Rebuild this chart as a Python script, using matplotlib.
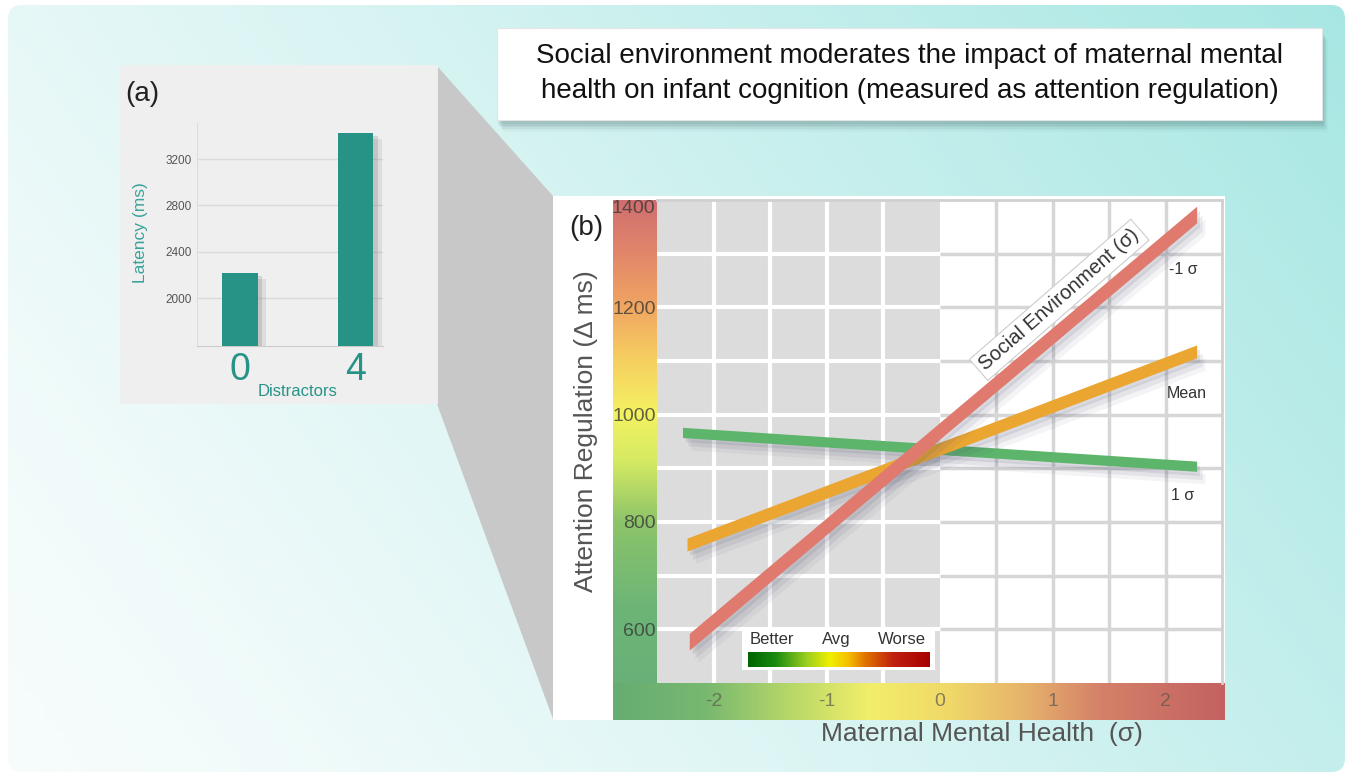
import numpy as np
import matplotlib
matplotlib.use("Agg")
import matplotlib.pyplot as plt
from matplotlib.patches import Rectangle, Polygon, FancyBboxPatch
from matplotlib.colors import LinearSegmentedColormap
import matplotlib.patheffects as pe

plt.rcParams['font.family'] = ['Liberation Sans', 'DejaVu Sans']

# ---------------- data ----------------
# panel (a)
distractors = ['0', '4']
latency_ms = [2215, 3424]
latency_ticks = [2000, 2400, 2800, 3200]

# panel (b)
social_levels = ['-1 σ', 'Mean', '1 σ']
mmh_start = [-2.21, -2.23, -2.27]
mmh_end = [2.28, 2.28, 2.28]
attn_start = [576, 757, 966]
attn_end = [1372, 1117, 903]
attn_ticks = [600, 800, 1000, 1200, 1400]
mmh_ticks = [-2, -1, 0, 1, 2]
legend_words = ['Better', 'Avg', 'Worse']

title_lines = ["Social environment moderates the impact of maternal mental",
               "health on infant cognition (measured as attention regulation)"]

# ---------------- styles ----------------
W, H = 1351, 777
fig = plt.figure(figsize=(W / 100, H / 100), dpi=100)
fig.patch.set_facecolor('white')


def px_axes(x0, y0, x1, y1, **kw):
    return fig.add_axes([x0 / W, 1 - y1 / H, (x1 - x0) / W, (y1 - y0) / H], **kw)


# background
bg = fig.add_axes([0, 0, 1, 1])
bg.set_xlim(0, W)
bg.set_ylim(H, 0)
bg.axis('off')
ny, nx = 78, 136
yy, xx = np.mgrid[0:1:ny * 1j, 0:1:nx * 1j]
t = np.clip(0.72 * xx + 0.3 * (1 - yy) - 0.05, 0, 1) ** 1.2
c0 = np.array([0xf6, 0xfc, 0xfc]) / 255
c1 = np.array([0xa4, 0xe6, 0xe2]) / 255
img = c0 + (c1 - c0) * t[..., None]
im = bg.imshow(img, extent=(0, W, H, 0), aspect='auto', interpolation='bilinear', zorder=0)
frame = FancyBboxPatch((8, 5), 1337, 767, boxstyle='round,pad=0,rounding_size=14',
                       transform=bg.transData, fc='none', ec='none')
bg.add_patch(frame)
im.set_clip_path(frame)

# connecting trapezoid
bg.add_patch(Polygon([(437, 66), (553, 196), (553, 719), (437, 404)], closed=True,
                     fc='#c8c8c8', ec='none', zorder=2))
# panel (a) box
bg.add_patch(Rectangle((120, 65), 318, 339, fc='#efefef', ec='none', zorder=3))
# panel (b) box
bg.add_patch(Rectangle((553, 196), 672, 524, fc='white', ec='none', zorder=3))

# title box with shadow
for i, a in enumerate([0.07, 0.07, 0.06, 0.05, 0.04, 0.03]):
    bg.add_patch(Rectangle((497 + 1 + i, 30 + 2 + i * 1.6), 825, 92, fc='#2a5050', alpha=a,
                           ec='none', zorder=4))
bg.add_patch(Rectangle((497, 28), 825, 92, fc='white', ec='#e4e4e4', lw=0.8, zorder=5))
bg.text(910, 56, title_lines[0], ha='center', va='center', fontsize=20, color='#111111', zorder=6)
bg.text(910, 91, title_lines[1], ha='center', va='center', fontsize=20, color='#111111', zorder=6)

bg.text(142, 94, '(a)', ha='center', va='center', fontsize=20, color='#222222', zorder=6)
bg.text(586, 228, '(b)', ha='center', va='center', fontsize=20, color='#222222', zorder=6)

# ---------------- panel (a) ----------------
teal = '#279387'
axA = px_axes(197, 123, 383, 346)
axA.patch.set_alpha(0)
xa = np.arange(len(distractors))
bars = axA.bar(xa, latency_ms, width=0.31, color=teal, zorder=3)
for b in bars:
    b.set_path_effects([pe.SimplePatchShadow(offset=(3, -2), shadow_rgbFace='#404040', alpha=0.15),
                        pe.SimplePatchShadow(offset=(6, -4), shadow_rgbFace='#404040', alpha=0.10),
                        pe.Normal()])
axA.set_xlim(-0.372, 1.238)
axA.set_ylim(1590, 3510)
axA.set_yticks(latency_ticks)
axA.yaxis.grid(True, color='#dadada', lw=1)
axA.set_axisbelow(True)
for s in ['top', 'right']:
    axA.spines[s].set_visible(False)
axA.spines['left'].set_color('#dddddd')
axA.spines['bottom'].set_color('#cccccc')
axA.tick_params(axis='y', length=0, pad=4, labelsize=8.5, labelcolor='#555555')
axA.set_xticks(xa)
axA.set_xticklabels(distractors)
axA.tick_params(axis='x', length=0, pad=4, labelsize=27, labelcolor=teal)
axA.set_xlabel('Distractors', fontsize=12, color=teal)
axA.xaxis.set_label_coords((298 - 197) / 186, -(384 - 346) / 223)
axA.set_ylabel('Latency (ms)', fontsize=12.5, color='#3aa39a')
axA.yaxis.set_label_coords((148 - 197) / 186, 0.51)

# ---------------- panel (b) ----------------
cmapL = LinearSegmentedColormap.from_list('l', [
    (0.0, '#66ae78'), (0.22, '#6db576'), (0.38, '#8cc46a'), (0.5, '#d6ea62'),
    (0.59, '#f4f262'), (0.7, '#f6cc60'), (0.8, '#f0a462'), (0.9, '#e2866a'), (1.0, '#d06e70')])
cbL = px_axes(613, 200, 657, 720)
cbL.imshow(np.linspace(1, 0, 256)[:, None], cmap=cmapL, aspect='auto', extent=(0, 1, 0, 1))
cbL.axis('off')

cmapB = LinearSegmentedColormap.from_list('b', [
    (0.0, '#66ad72'), (0.15, '#78b870'), (0.3, '#bcda68'), (0.42, '#f2ee6a'),
    (0.55, '#f0d868'), (0.68, '#e6b06c'), (0.8, '#d48068'), (1.0, '#c46262')])
cbB = px_axes(613, 683, 1225, 720)
cbB.imshow(np.linspace(0, 1, 256)[None, :], cmap=cmapB, aspect='auto', extent=(0, 1, 0, 1))
cbB.axis('off')

axB = px_axes(657, 200, 1222, 683)
axB.set_xlim(-2.5, 2.5)
axB.set_ylim(500, 1400)
axB.set_facecolor('white')
axB.axvspan(-2.5, 0, color='#dcdcdc', zorder=0, lw=0)

grid_y = np.arange(600, 1400, 100)
grid_x = np.arange(-2.0, 2.5, 0.5)
for gy in grid_y:
    axB.plot([-2.5, 0], [gy, gy], color='white', lw=3, zorder=1, solid_capstyle='butt')
    axB.plot([0, 2.5], [gy, gy], color='#d6d6d6', lw=2.5, zorder=1, solid_capstyle='butt')
for gx in grid_x:
    if gx < 0:
        axB.axvline(gx, color='white', lw=3, zorder=1)
    elif gx > 0:
        axB.axvline(gx, color='#d6d6d6', lw=2.5, zorder=1)

for s in ['left', 'bottom']:
    axB.spines[s].set_visible(False)
for s in ['top', 'right']:
    axB.spines[s].set_color('#d0d0d0')
    axB.spines[s].set_linewidth(2)

line_colors = ['#e07a6e', '#eba531', '#5cb56b']
half_thick = [15.5, 12, 9.5]
order = [2, 1, 0]
for k in order:
    xs = np.array([mmh_start[k], mmh_end[k]])
    ys = np.array([attn_start[k], attn_end[k]])
    pc = axB.fill_between(xs, ys - half_thick[k], ys + half_thick[k], color=line_colors[k],
                          lw=0, zorder=3 + (2 - k))
    pc.set_path_effects([
        pe.SimplePatchShadow(offset=(2, -3), shadow_rgbFace='#505070', alpha=0.12),
        pe.SimplePatchShadow(offset=(4, -6), shadow_rgbFace='#505070', alpha=0.10),
        pe.SimplePatchShadow(offset=(6, -9), shadow_rgbFace='#505070', alpha=0.06),
        pe.Normal()])

label_pos = [(2.16, 1270), (2.19, 1039), (2.15, 849)]
for k, (lx, ly) in enumerate(label_pos):
    axB.text(lx, ly, social_levels[k], ha='center', va='center', fontsize=11.5,
             color='#333333', zorder=8)

axB.text(1.06, 1214, 'Social Environment (σ)', rotation=41, ha='center', va='center',
         rotation_mode='anchor', fontsize=14.5, color='#333333', zorder=9,
         bbox=dict(boxstyle='square,pad=0.22', fc='white', ec='#cccccc', lw=0.8))

axB.set_yticks(attn_ticks)
axB.set_xticks(mmh_ticks)
axB.set_xticklabels([str(v) for v in mmh_ticks])
axB.tick_params(axis='y', length=0, pad=1, labelsize=14, labelcolor=(0.22, 0.22, 0.2, 0.78))
axB.tick_params(axis='x', length=0, pad=7, labelsize=14, labelcolor=(0.35, 0.35, 0.3, 0.7))
ylbls = axB.get_yticklabels()
ylbls[-1].set_va('top')
ylbls[-1].set_y(1398)

axB.set_ylabel('Attention Regulation (Δ ms)', fontsize=19, color='#555555')
axB.yaxis.set_label_coords((598 - 657) / 565, (683 - 431) / 483)
axB.set_xlabel('Maternal Mental Health  (σ)', fontsize=19, color='#555555')
axB.xaxis.set_label_coords((982 - 657) / 565, -(722 - 683) / 483)

# legend inset
axL = px_axes(742, 627, 935, 670)
axL.set_xlim(0, 1)
axL.set_ylim(0, 1)
axL.set_facecolor('white')
for s in axL.spines.values():
    s.set_visible(False)
axL.set_xticks([])
axL.set_yticks([])
cmapG = LinearSegmentedColormap.from_list('g', [
    (0.0, '#006400'), (0.15, '#1a8a10'), (0.32, '#9acd20'), (0.45, '#f0f000'),
    (0.55, '#f5c000'), (0.65, '#e07000'), (0.8, '#c02010'), (1.0, '#a80000')])
axL.imshow(np.linspace(0, 1, 256)[None, :], cmap=cmapG, aspect='auto',
           extent=(0.03, 0.97, 0.08, 0.42))
for word, wx in zip(legend_words, [0.155, 0.49, 0.83]):
    axL.text(wx, 0.72, word, ha='center', va='center', fontsize=12, color='#333333')

fig.savefig('out.png', dpi=100)
